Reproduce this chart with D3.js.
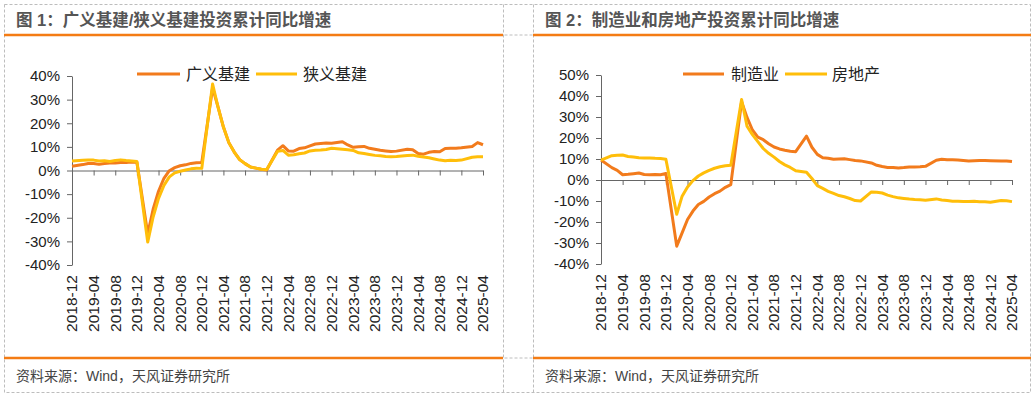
<!DOCTYPE html>
<html>
<head>
<meta charset="utf-8">
<script src="https://cdn.jsdelivr.net/npm/d3@7"></script>
<style>
body { margin: 0; background: #fff; }
text { font-family: "Liberation Sans", Arial, "Noto Sans CJK SC", sans-serif; }
</style>
</head>
<body>
<svg id="chart" width="1036" height="396"></svg>
<script>
// monthly cumulative YoY (%), 2018-12 .. 2025-04, January not published (null)
var tickLabels = ["2018-12", "2019-04", "2019-08", "2019-12", "2020-04", "2020-08", "2020-12",
	"2021-04", "2021-08", "2021-12", "2022-04", "2022-08", "2022-12", "2023-04", "2023-08",
	"2023-12", "2024-04", "2024-08", "2024-12", "2025-04"];

var broadInfra = [1.8,
	null, 2.5, 3.0, 3.0, 2.6, 3.0, 3.2, 3.2, 3.4, 3.4, 3.6, 3.5,
	null, -26.9, -16.4, -8.8, -3.3, -0.1, 1.2, 2.0, 2.4, 3.0, 3.3, 3.4,
	null, 35.0, 26.9, 18.4, 11.8, 7.8, 4.6, 2.9, 1.5, 1.0, 0.5, 0.2,
	null, 8.6, 10.5, 8.3, 8.2, 9.3, 9.6, 10.4, 11.2, 11.4, 11.6, 11.5,
	null, 12.2, 10.8, 9.8, 10.1, 10.2, 9.4, 9.0, 8.6, 8.3, 8.0, 8.2,
	null, 9.0, 8.8, 7.2, 6.9, 7.7, 8.0, 7.9, 9.3, 9.4, 9.4, 9.6,
	null, 10.2, 11.8, 10.9];

var narrowInfra = [4.0,
	null, 4.3, 4.4, 4.4, 4.0, 4.1, 3.8, 4.2, 4.5, 4.2, 4.0, 3.8,
	null, -30.3, -19.7, -11.8, -6.3, -2.7, -1.0, -0.3, 0.2, 0.7, 1.0, 0.9,
	null, 36.6, 26.8, 18.4, 11.8, 7.8, 4.6, 2.9, 1.5, 1.0, 0.5, 0.4,
	null, 8.1, 8.5, 6.5, 6.7, 7.1, 7.4, 8.3, 8.6, 8.7, 8.9, 9.4,
	null, 9.0, 8.8, 8.5, 7.5, 7.2, 6.8, 6.4, 6.2, 5.9, 5.8, 5.9,
	null, 6.3, 6.5, 6.0, 5.7, 5.4, 4.9, 4.4, 4.1, 4.3, 4.2, 4.4,
	null, 5.6, 5.8, 5.8];

var manufacturing = [9.5,
	null, 5.9, 4.6, 2.5, 2.7, 3.0, 3.3, 2.6, 2.5, 2.6, 2.5, 3.1,
	null, -31.5, -25.2, -18.8, -14.8, -11.7, -10.2, -8.1, -6.5, -5.3, -3.5, -2.2,
	null, 37.3, 29.8, 23.8, 20.4, 19.2, 17.3, 15.7, 14.8, 14.2, 13.7, 13.5,
	null, 20.9, 15.6, 12.2, 10.6, 10.4, 9.9, 10.0, 10.1, 9.7, 9.3, 9.1,
	null, 8.1, 7.0, 6.4, 6.0, 6.0, 5.7, 5.9, 6.2, 6.2, 6.3, 6.5,
	null, 9.4, 9.9, 9.7, 9.6, 9.5, 9.3, 9.1, 9.2, 9.3, 9.3, 9.2,
	null, 9.0, 9.1, 8.8];

var realEstate = [9.5,
	null, 11.6, 11.8, 11.9, 11.2, 10.9, 10.6, 10.5, 10.5, 10.3, 10.2, 9.9,
	null, -16.3, -7.7, -3.3, -0.3, 1.9, 3.4, 4.6, 5.6, 6.3, 6.8, 7.0,
	null, 38.3, 25.6, 21.6, 18.3, 15.0, 12.7, 10.9, 8.8, 7.2, 6.0, 4.4,
	null, 3.7, 0.7, -2.7, -4.0, -5.4, -6.4, -7.4, -8.0, -8.8, -9.8, -10.0,
	null, -5.7, -5.8, -6.2, -7.2, -7.9, -8.5, -8.8, -9.1, -9.3, -9.4, -9.6,
	null, -9.0, -9.5, -9.8, -10.1, -10.1, -10.2, -10.2, -10.1, -10.3, -10.4, -10.6,
	null, -9.8, -9.9, -10.3];

var leftTicks = [40, 30, 20, 10, 0, -10, -20, -30, -40];
var rightTicks = [50, 40, 30, 20, 10, 0, -10, -20, -30, -40];

var ORANGE = "#F27B1C",
	YELLOW = "#FFBE0A",
	RULE = "#F47C14",
	GRIDLINE = "#BDBDBD";

var months = d3.timeMonth.range(new Date(2018, 11, 1), new Date(2025, 4, 1)).map(d3.timeFormat("%Y-%m"));
var svg = d3.select("#chart");

// dashed table frame
var frame = svg.append("g")
	.attr("fill", "none")
	.attr("stroke", GRIDLINE)
	.attr("stroke-width", 1)
	.attr("stroke-dasharray", "3,2");
frame.append("rect").attr("x", 4.5).attr("y", 4.5).attr("width", 1026).attr("height", 388);
[503.5, 533.5].forEach(function (xv) {
	frame.append("line").attr("x1", xv).attr("x2", xv).attr("y1", 4.5).attr("y2", 392.5);
});
[35, 358].forEach(function (yv) {
	frame.append("line").attr("x1", 4.5).attr("x2", 1030.5).attr("y1", yv).attr("y2", yv);
});

var drawPanel = function (p) {
	var g = svg.append("g");
	var x = d3.scalePoint().domain(months).range([p.left, p.right]);
	var y = d3.scaleLinear().domain(p.domain).range([p.bottom, p.top]);

	// header, rules, footer
	g.append("line").attr("x1", p.x0).attr("x2", p.x1).attr("y1", 35).attr("y2", 35)
		.attr("stroke", RULE).attr("stroke-width", 2.5);
	g.append("line").attr("x1", p.x0).attr("x2", p.x1).attr("y1", 358).attr("y2", 358)
		.attr("stroke", RULE).attr("stroke-width", 2.5);
	g.append("text").attr("x", p.x0 + 12).attr("y", 26)
		.style("font-size", "16.5px").style("font-weight", "bold").attr("fill", "#555")
		.text(p.title);
	g.append("text").attr("x", p.x0 + 12).attr("y", 381)
		.style("font-size", "14px").attr("fill", "#444")
		.text("资料来源：Wind，天风证券研究所");

	// y axis
	var yAxis = g.append("g")
		.attr("transform", "translate(" + p.left + ",0)")
		.call(d3.axisLeft(y).tickValues(p.ticks).tickSize(5).tickSizeOuter(0).tickPadding(7)
			.tickFormat(function (d) { return d + "%"; }));
	yAxis.selectAll("text").style("font-size", "15px").attr("fill", "#222");

	// x axis on the zero line
	var xAxis = g.append("g")
		.attr("transform", "translate(0," + y(0) + ")")
		.call(d3.axisBottom(x).tickValues(tickLabels).tickSize(5).tickSizeOuter(0).tickFormat(""));
	g.selectAll(".domain, .tick line").attr("stroke", "#666");

	g.selectAll(".xlabel").data(tickLabels)
		.enter()
		.append("text")
		.attr("class", "xlabel")
		.attr("transform", function (d) {
			return "translate(" + x(d) + "," + (p.bottom + 10) + ") rotate(-90)";
		})
		.attr("text-anchor", "end")
		.attr("dy", "0.35em")
		.style("font-size", "15.5px")
		.attr("fill", "#222")
		.text(function (d) { return d; });

	// series
	var line = d3.line()
		.x(function (d) { return x(d.m); })
		.y(function (d) { return y(d.v); });
	p.series.forEach(function (s) {
		var pts = months.map(function (m, i) { return { m: m, v: s.values[i] }; })
			.filter(function (d) { return d.v !== null; });
		g.append("path").datum(pts)
			.attr("d", line)
			.attr("fill", "none")
			.attr("stroke", s.color)
			.attr("stroke-width", 3)
			.attr("stroke-linejoin", "round");
	});

	// legend
	p.series.forEach(function (s, i) {
		var lg = p.legend[i];
		g.append("line").attr("x1", lg[0]).attr("x2", lg[1]).attr("y1", 74).attr("y2", 74)
			.attr("stroke", s.color).attr("stroke-width", 3);
		g.append("text").attr("x", lg[2]).attr("y", 74).attr("dy", "0.36em")
			.style("font-size", "16px").attr("fill", "#222")
			.text(s.name);
	});
};

drawPanel({
	x0: 4, x1: 503,
	left: 72, right: 483, top: 76, bottom: 265,
	domain: [-40, 40], ticks: leftTicks,
	title: "图 1：广义基建/狭义基建投资累计同比增速",
	series: [
		{ name: "广义基建", values: broadInfra, color: ORANGE },
		{ name: "狭义基建", values: narrowInfra, color: YELLOW }
	],
	legend: [[137, 180, 186], [256, 297, 303]]
});

drawPanel({
	x0: 533, x1: 1031,
	left: 601, right: 1012, top: 75, bottom: 264,
	domain: [-40, 50], ticks: rightTicks,
	title: "图 2：制造业和房地产投资累计同比增速",
	series: [
		{ name: "制造业", values: manufacturing, color: ORANGE },
		{ name: "房地产", values: realEstate, color: YELLOW }
	],
	legend: [[683, 724, 731], [785, 827, 832]]
});
</script>
</body>
</html>
